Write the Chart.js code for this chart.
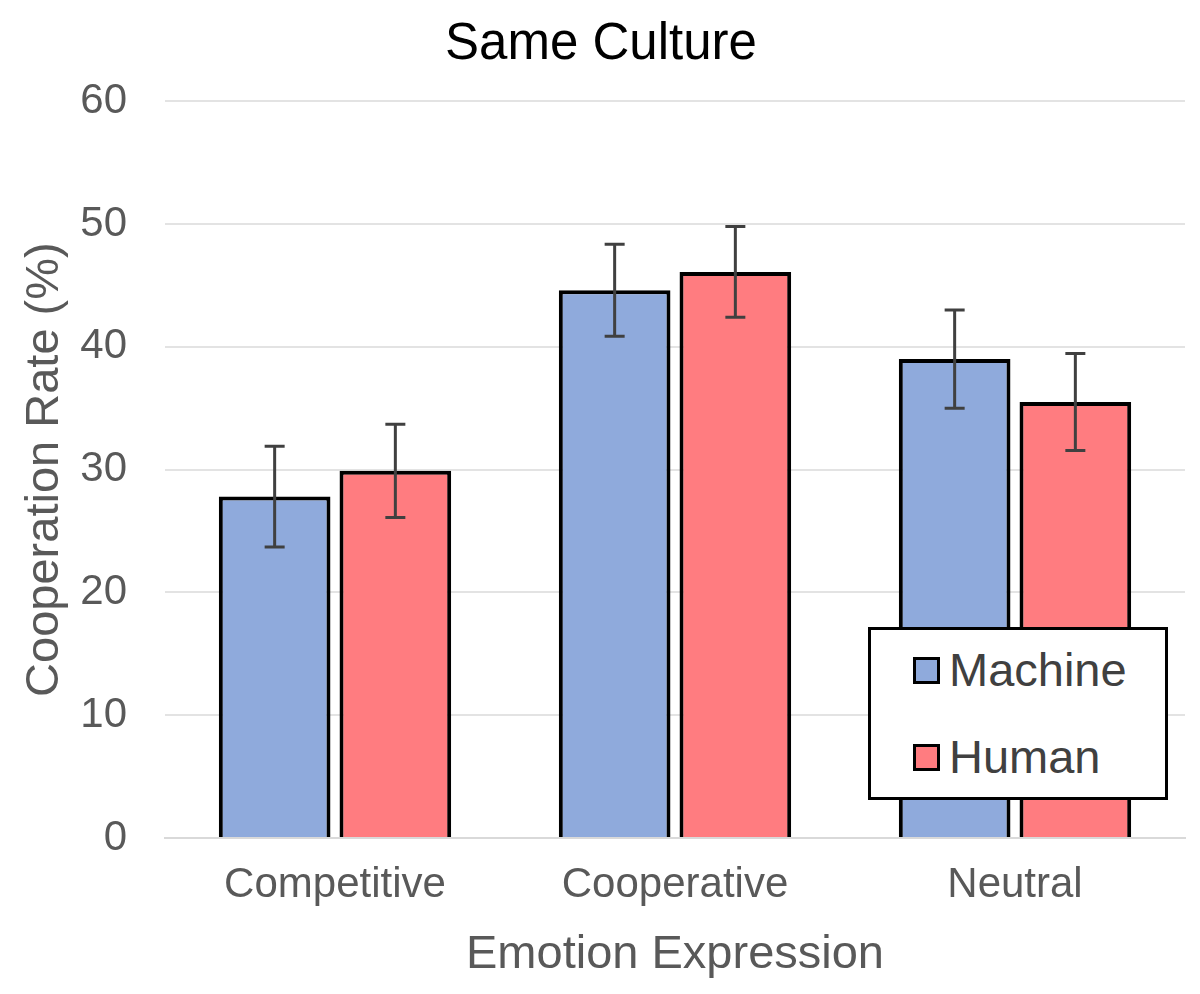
<!DOCTYPE html>
<html>
<head>
<meta charset="utf-8">
<script src="https://cdn.jsdelivr.net/npm/chart.js@4"></script>
<style>
  html, body { margin: 0; padding: 0; background: #fff; }
  #wrap { position: relative; width: 1200px; height: 994px; }
  #legendBox {
    position: absolute; left: 868px; top: 627px; width: 294px; height: 167px;
    border: 3px solid #000; background: #fff;
    font-family: "Liberation Sans", Arial, sans-serif; font-size: 47px; line-height: 54px; color: #404040;
  }
  .item { position: absolute; left: 42px; display: flex; align-items: center; }
  .swatch { width: 21px; height: 21px; border: 3px solid #000; margin-right: 9px; }
</style>
</head>
<body>
<div id="wrap">
  <canvas id="grafico" width="1200" height="994"></canvas>
  <div id="legendBox">
    <div class="item" style="top:13px"><div class="swatch" style="background:#8faadc"></div>Machine</div>
    <div class="item" style="top:100px"><div class="swatch" style="background:#ff7c80"></div>Human</div>
  </div>
</div>
<script>
// DADOS
const categorias = ["Competitive", "Cooperative", "Neutral"];
const machine = [27.8, 44.6, 39.0];
const human = [29.9, 46.1, 35.5];
const machineErro = [4.1, 3.75, 4.0];
const humanErro = [3.8, 3.7, 3.95];
const yTicks = [0, 10, 20, 30, 40, 50, 60];

// BARRAS DE ERRO
const errorBars = {
  id: "errorBars",
  afterDatasetsDraw(chart) {
    const ctx = chart.ctx;
    const y = chart.scales.y;
    const erros = [machineErro, humanErro];
    ctx.save();
    ctx.strokeStyle = "#404040";
    ctx.lineWidth = 3;
    chart.data.datasets.forEach((ds, i) => {
      const meta = chart.getDatasetMeta(i);
      meta.data.forEach((bar, j) => {
        const v = ds.data[j];
        const e = erros[i][j];
        const top = y.getPixelForValue(v + e);
        const bot = y.getPixelForValue(v - e);
        ctx.beginPath();
        ctx.moveTo(bar.x, top);
        ctx.lineTo(bar.x, bot);
        ctx.moveTo(bar.x - 10, top);
        ctx.lineTo(bar.x + 10, top);
        ctx.moveTo(bar.x - 10, bot);
        ctx.lineTo(bar.x + 10, bot);
        ctx.stroke();
      });
    });
    ctx.restore();
  },
};

const fonte = "'Liberation Sans', Arial, sans-serif";

const chart = new Chart(document.getElementById("grafico"), {
  type: "bar",
  data: {
    labels: categorias,
    datasets: [
      {
        label: "Machine",
        data: machine,
        backgroundColor: "#8faadc",
        borderColor: "#000",
        borderWidth: 4,
      },
      {
        label: "Human",
        data: human,
        backgroundColor: "#ff7c80",
        borderColor: "#000",
        borderWidth: 4,
      },
    ],
  },
  options: {
    responsive: false,
    animation: false,
    categoryPercentage: 0.71,
    barPercentage: 0.925,
    layout: { padding: { top: 10, right: 15, left: 17, bottom: 11 } },
    scales: {
      x: {
        afterFit: (s) => { s.height = 145; },
        grid: { display: false, drawTicks: false },
        border: { color: "#d9d9d9", width: 2 },
        ticks: { color: "#595959", font: { family: fonte, size: 42 }, padding: 22 },
        title: {
          display: true,
          text: "Emotion Expression",
          color: "#595959",
          font: { family: fonte, size: 47 },
          padding: { top: 17, bottom: 0 },
        },
      },
      y: {
        min: 0,
        max: 60,
        afterFit: (s) => { s.width = 148; },
        afterBuildTicks: (axis) => { axis.ticks = yTicks.map((v) => ({ value: v })); },
        grid: { color: "#e3e3e3", lineWidth: 2, drawTicks: false },
        border: { display: false },
        ticks: { color: "#595959", font: { family: fonte, size: 42 }, padding: 38 },
        title: {
          display: true,
          text: "Cooperation Rate (%)",
          color: "#595959",
          font: { family: fonte, size: 47 },
          padding: { top: 0, bottom: 7 },
        },
      },
    },
    plugins: {
      legend: { display: false },
      tooltip: { enabled: false },
      title: {
        display: true,
        text: "Same Culture",
        color: "#000",
        font: { family: fonte, size: 51, weight: "normal" },
        padding: { top: 4, bottom: 26 },
      },
    },
  },
  plugins: [errorBars],
});
</script>
</body>
</html>
